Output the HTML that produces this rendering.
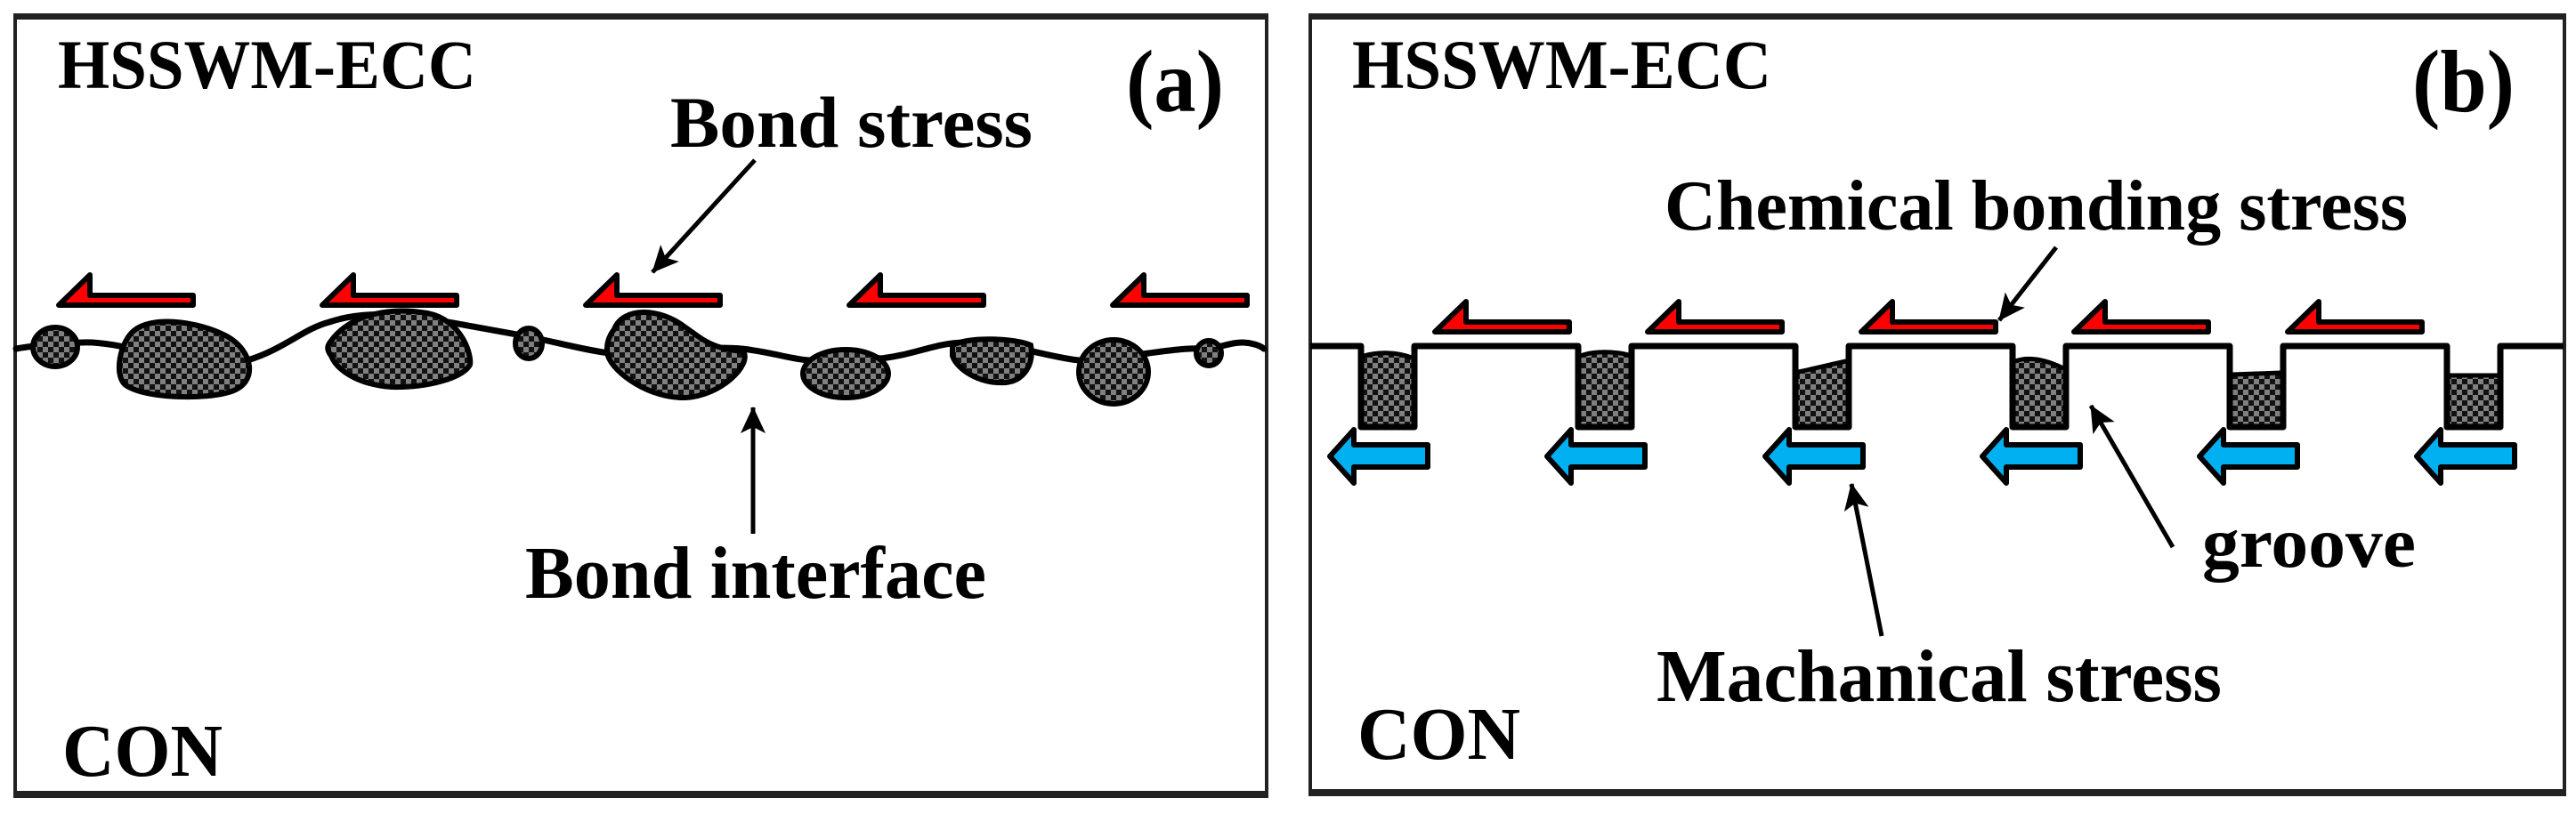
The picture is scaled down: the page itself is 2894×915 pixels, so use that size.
<!DOCTYPE html>
<html><head><meta charset="utf-8"><style>
html,body{margin:0;padding:0;background:#fff;}
svg{display:block;}
text{font-family:"Liberation Serif",serif;font-weight:bold;fill:#000;}
</style></head><body>
<svg width="2894" height="915" viewBox="0 0 2894 915" xmlns="http://www.w3.org/2000/svg">
<defs>
<pattern id="ck" width="12" height="12" patternUnits="userSpaceOnUse">
<rect width="12" height="12" fill="#808080"/>
<rect width="6" height="6" fill="#111"/>
<rect x="6" y="6" width="6" height="6" fill="#111"/>
</pattern>
<marker id="ah" viewBox="0 0 30 40" refX="29" refY="20" markerWidth="30" markerHeight="40" markerUnits="userSpaceOnUse" orient="auto">
<path d="M0,6 L30,20 L0,34 L7,20 Z" fill="#000"/>
</marker>
<g id="red"><path d="M0,34 L35,0 L35,23 L151,23 L151,34 Z" fill="#f00" stroke="#000" stroke-width="6" stroke-linejoin="round"/></g>
<g id="blue"><path d="M0,30 L27,0 L27,17 L110,17 L110,42 L27,42 L27,60 Z" fill="#00b0f0" stroke="#000" stroke-width="6" stroke-linejoin="round"/></g>
</defs>
<!-- panel a -->
<rect x="17" y="18" width="1406" height="876" fill="none" stroke="#222" stroke-width="4"/>
<rect x="15" y="15" width="1410" height="7" fill="#222"/>
<rect x="15" y="889" width="1410" height="8" fill="#222"/>
<!-- panel b -->
<rect x="1472" y="18" width="1409" height="873" fill="none" stroke="#222" stroke-width="4"/>
<rect x="1470" y="15" width="1413" height="7" fill="#222"/>
<rect x="1470" y="887" width="1413" height="8" fill="#222"/>

<!-- texts a -->
<text x="65" y="99" font-size="78" textLength="470" lengthAdjust="spacingAndGlyphs">HSSWM-ECC</text>
<text x="1265" y="125" font-size="100" textLength="110" lengthAdjust="spacingAndGlyphs">(a)</text>
<text x="753" y="165" font-size="82" textLength="407" lengthAdjust="spacingAndGlyphs">Bond stress</text>
<text x="590" y="672" font-size="84" textLength="518" lengthAdjust="spacingAndGlyphs">Bond interface</text>
<text x="70" y="872" font-size="84" textLength="180" lengthAdjust="spacingAndGlyphs">CON</text>
<!-- texts b -->
<text x="1519" y="99" font-size="78" textLength="471" lengthAdjust="spacingAndGlyphs">HSSWM-ECC</text>
<text x="2710" y="125" font-size="100" textLength="115" lengthAdjust="spacingAndGlyphs">(b)</text>
<text x="1870" y="258" font-size="80" textLength="835" lengthAdjust="spacingAndGlyphs">Chemical  bonding stress</text>
<text x="2474" y="637" font-size="80" textLength="240" lengthAdjust="spacingAndGlyphs">groove</text>
<text x="1861" y="788" font-size="84" textLength="635" lengthAdjust="spacingAndGlyphs">Machanical stress</text>
<text x="1525" y="853" font-size="84" textLength="183" lengthAdjust="spacingAndGlyphs">CON</text>

<!-- panel a graphics -->
<g stroke="#000" stroke-width="7" fill="none" stroke-linecap="round">
<path d="M18,392 C40,388 70,386 92,385 C140,382 230,420 278,405 C320,392 340,370 370,362 C400,352 430,352 470,356 C520,365 560,372 592,378 C630,386 660,394 685,397 C740,400 790,388 833,392 C870,396 895,406 916,405 C950,404 970,400 990,403 C1030,398 1050,386 1082,385 C1130,384 1180,402 1212,405 C1260,404 1320,390 1350,392 C1370,392 1380,385 1395,385 C1405,385 1415,388 1420,392"/>
</g>
<g fill="url(#ck)" stroke="#000" stroke-width="6">
<ellipse cx="62" cy="390" rx="25" ry="22"/>
<path d="M150,372 C170,355 220,360 255,378 C285,395 290,430 260,440 C230,450 160,448 140,432 C128,420 135,385 150,372 Z"/>
<path d="M372,383 C395,352 440,345 480,352 C520,360 530,400 528,410 C520,425 480,436 440,435 C400,432 378,415 372,400 C366,392 368,388 372,383 Z"/>
<ellipse cx="594" cy="386" rx="15" ry="17"/>
<path d="M690,370 C700,345 740,345 770,368 C790,382 800,392 835,395 C845,410 810,445 770,447 C730,448 690,420 683,400 C680,388 684,378 690,370 Z"/>
<ellipse cx="950" cy="420" rx="48" ry="27"/>
<path d="M1070,388 C1090,378 1140,380 1158,388 C1162,410 1150,428 1130,430 C1100,432 1075,415 1070,400 Z"/>
<ellipse cx="1251" cy="418" rx="39" ry="36"/>
<ellipse cx="1358" cy="397" rx="14" ry="14"/>
</g>
<use href="#red" x="66" y="309"/>
<use href="#red" x="362" y="309"/>
<use href="#red" x="658" y="309"/>
<use href="#red" x="954" y="309"/>
<use href="#red" x="1250" y="309"/>
<line x1="848" y1="180" x2="733" y2="306" stroke="#000" stroke-width="5" marker-end="url(#ah)"/>
<line x1="846" y1="600" x2="846" y2="458" stroke="#000" stroke-width="5" marker-end="url(#ah)"/>

<!-- panel b graphics -->
<g fill="url(#ck)" stroke="none">
<path d="M1532,400 C1550,395 1570,396 1586,402 L1586,477 L1532,477 Z"/>
<path d="M1776,400 C1790,394 1815,395 1830,399 L1830,477 L1776,477 Z"/>
<path d="M2020,418 C2040,414 2055,410 2074,406 L2074,477 L2020,477 Z"/>
<path d="M2264,406 C2280,400 2300,405 2318,414 L2318,477 L2264,477 Z"/>
<path d="M2508,421 L2562,419 L2562,477 L2508,477 Z"/>
<path d="M2752,422 L2806,422 L2806,477 L2752,477 Z"/>
</g>
<g fill="none" stroke="#000" stroke-width="5">
<path d="M1532,400 C1550,395 1570,396 1586,402"/>
<path d="M1776,400 C1790,394 1815,395 1830,399"/>
<path d="M2020,418 C2040,414 2055,410 2074,406"/>
<path d="M2264,406 C2280,400 2300,405 2318,414"/>
<path d="M2508,421 L2562,419"/>
<path d="M2752,422 L2806,422"/>
</g>
<path d="M1472,389 L1529,389 L1529,480 L1589,480 L1589,389 L1773,389 L1773,480 L1833,480 L1833,389 L2017,389 L2017,480 L2077,480 L2077,389 L2261,389 L2261,480 L2321,480 L2321,389 L2505,389 L2505,480 L2565,480 L2565,389 L2749,389 L2749,480 L2809,480 L2809,389 L2880,389" fill="none" stroke="#000" stroke-width="7" stroke-linejoin="round"/>
<use href="#red" x="1612" y="339"/>
<use href="#red" x="1851" y="339"/>
<use href="#red" x="2091" y="339"/>
<use href="#red" x="2330" y="339"/>
<use href="#red" x="2570" y="339"/>
<use href="#blue" x="1494" y="483"/>
<use href="#blue" x="1738" y="483"/>
<use href="#blue" x="1983" y="483"/>
<use href="#blue" x="2227" y="483"/>
<use href="#blue" x="2471" y="483"/>
<use href="#blue" x="2715" y="483"/>
<line x1="2310" y1="278" x2="2246" y2="360" stroke="#000" stroke-width="5" marker-end="url(#ah)"/>
<line x1="2441" y1="615" x2="2349" y2="456" stroke="#000" stroke-width="5" marker-end="url(#ah)"/>
<line x1="2114" y1="715" x2="2080" y2="544" stroke="#000" stroke-width="5" marker-end="url(#ah)"/>
</svg>
</body></html>
